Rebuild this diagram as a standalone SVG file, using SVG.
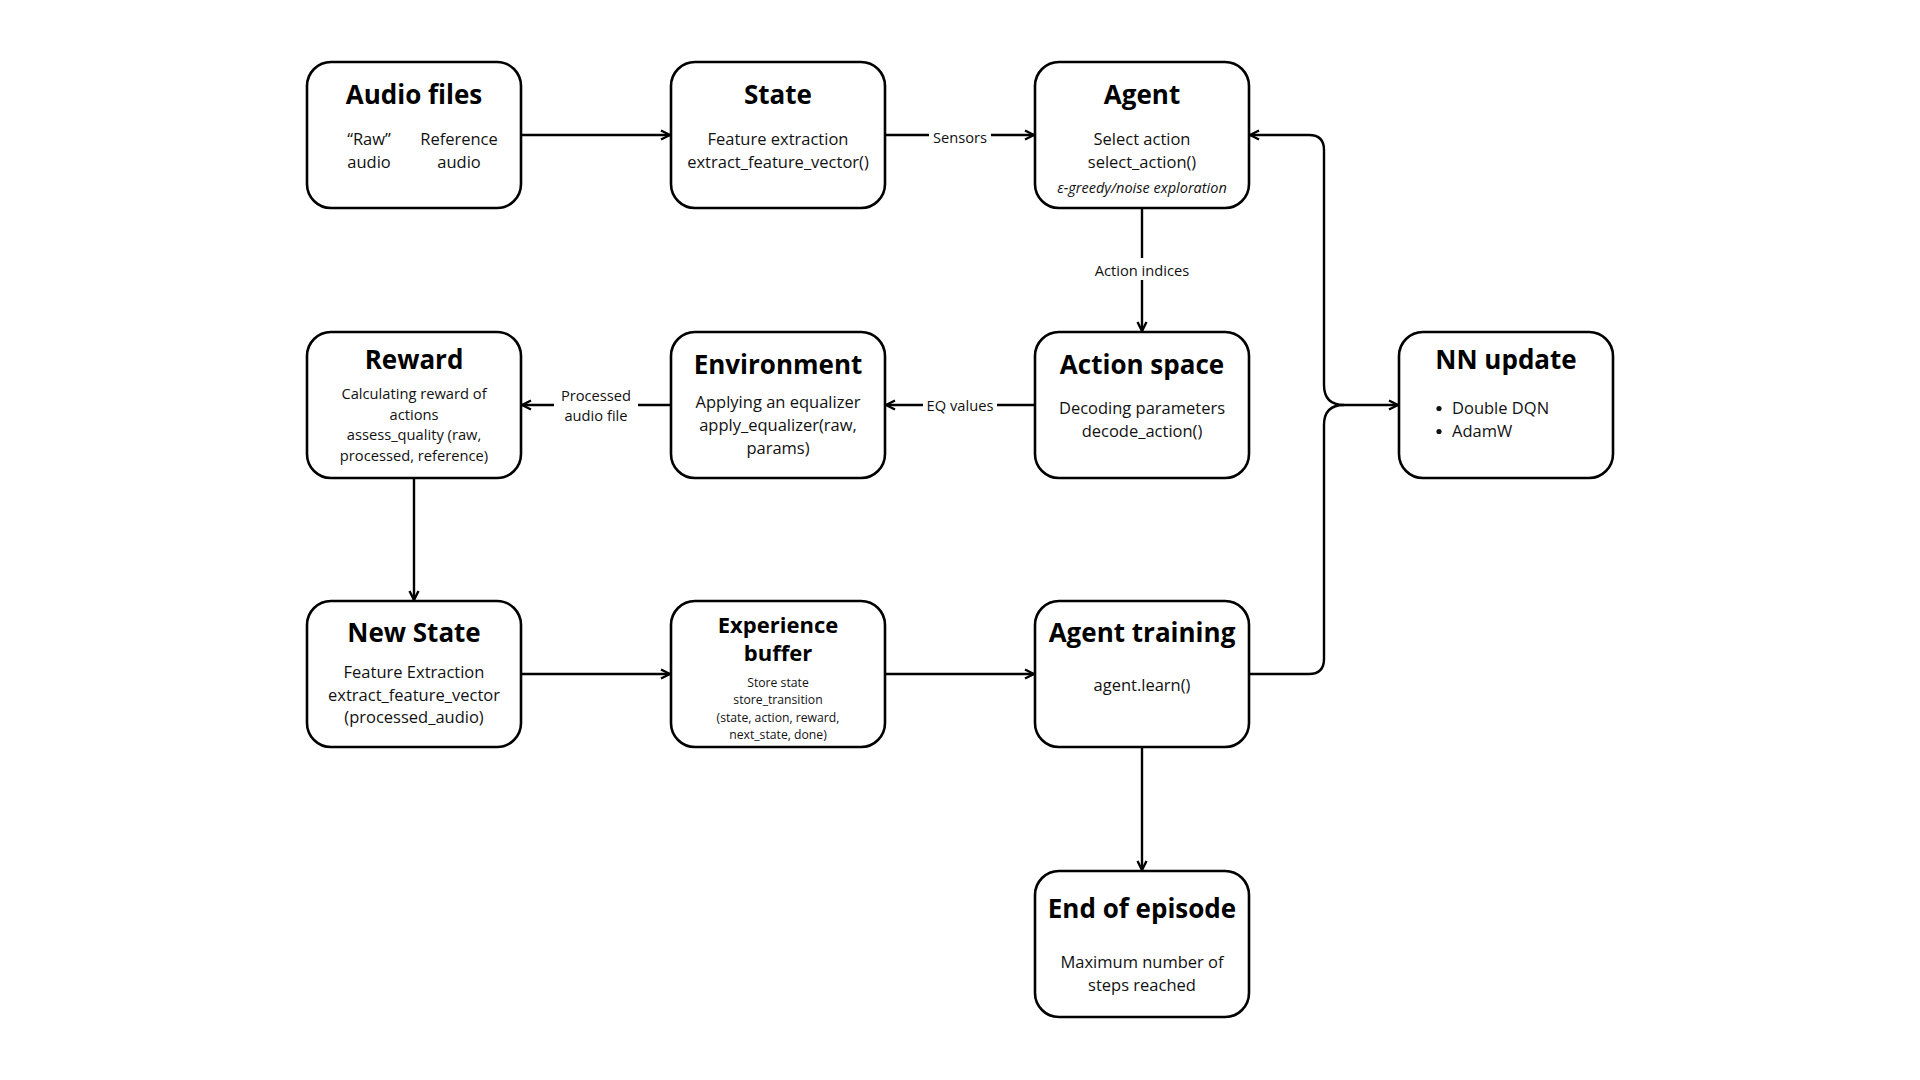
<svg xmlns="http://www.w3.org/2000/svg" width="1920" height="1080" viewBox="0 0 1920 1080">
<defs>
<marker id="arr" viewBox="0 0 12 12" refX="11" refY="6" markerWidth="12" markerHeight="12" markerUnits="userSpaceOnUse" orient="auto">
<path d="M2,1.5 L11,6 L2,10.5" fill="none" stroke="#000" stroke-width="2.4"/>
</marker>
</defs>
<style>
.box{fill:#fff;stroke:#000;stroke-width:2.6}
.t{font-family:"Open Sans","Noto Sans",sans-serif;font-weight:700;font-size:26px;fill:#000;text-anchor:middle}
.b{font-family:"Open Sans","Noto Sans",sans-serif;font-size:16.5px;fill:#111;text-anchor:middle}
.s{font-family:"Open Sans","Noto Sans",sans-serif;font-size:14.7px;fill:#111;text-anchor:middle}
.xs{font-family:"Open Sans","Noto Sans",sans-serif;font-size:12.2px;fill:#111;text-anchor:middle}
.i{font-family:"Open Sans","Noto Sans",sans-serif;font-size:14.5px;font-style:italic;fill:#111;text-anchor:middle}
.l{font-family:"Open Sans","Noto Sans",sans-serif;font-size:14.7px;fill:#111;text-anchor:middle}
.c{fill:none;stroke:#000;stroke-width:2.4}
</style>
<rect width="1920" height="1080" fill="#fff"/>
<g id="connectors">
<path class="c" d="M522,135 H670" marker-end="url(#arr)"/>
<path class="c" d="M885,135 H1034" marker-end="url(#arr)"/>
<path class="c" d="M1142,208 V331" marker-end="url(#arr)"/>
<path class="c" d="M1035,405 H886" marker-end="url(#arr)"/>
<path class="c" d="M671,405 H522" marker-end="url(#arr)"/>
<path class="c" d="M414,478 V600" marker-end="url(#arr)"/>
<path class="c" d="M522,674 H670" marker-end="url(#arr)"/>
<path class="c" d="M885,674 H1034" marker-end="url(#arr)"/>
<path class="c" d="M1142,747 V870" marker-end="url(#arr)"/>
<path class="c" d="M1249,674 H1309 Q1324,674 1324,659 V425 Q1324,405 1344,405 H1398" marker-end="url(#arr)"/>
<path class="c" d="M1344,405 Q1324,405 1324,385 V150 Q1324,135 1309,135 H1250" marker-end="url(#arr)"/>
<rect x="929" y="125" width="62" height="22" fill="#fff"/>
<text class="l" x="960" y="142.5">Sensors</text>
<rect x="1090" y="258" width="104" height="22" fill="#fff"/>
<text class="l" x="1142" y="275.5">Action indices</text>
<rect x="923" y="394" width="74" height="22" fill="#fff"/>
<text class="l" x="960" y="410.5">EQ values</text>
<rect x="554" y="382" width="84" height="44" fill="#fff"/>
<text class="l" x="596" y="400.5">Processed</text>
<text class="l" x="596" y="420.5">audio file</text>
</g>
<g id="audio-files">
<rect class="box" x="307" y="62" width="214" height="146" rx="24"/>
<text class="t" x="414" y="103.5">Audio files</text>
<text class="b" x="369" y="144.5">“Raw”</text>
<text class="b" x="369" y="167.5">audio</text>
<text class="b" x="459" y="144.5">Reference</text>
<text class="b" x="459" y="167.5">audio</text>
</g>
<g id="state">
<rect class="box" x="671" y="62" width="214" height="146" rx="24"/>
<text class="t" x="778" y="103.5">State</text>
<text class="b" x="778" y="144.5">Feature extraction</text>
<text class="b" x="778" y="167.5">extract_feature_vector()</text>
</g>
<g id="agent">
<rect class="box" x="1035" y="62" width="214" height="146" rx="24"/>
<text class="t" x="1142" y="103.5">Agent</text>
<text class="b" x="1142" y="144.5">Select action</text>
<text class="b" x="1142" y="167.5">select_action()</text>
<text class="i" x="1142" y="192.5">ε-greedy/noise exploration</text>
</g>
<g id="reward">
<rect class="box" x="307" y="332" width="214" height="146" rx="24"/>
<text class="t" x="414" y="368.5">Reward</text>
<text class="s" x="414" y="398.5">Calculating reward of</text>
<text class="s" x="414" y="419.5">actions</text>
<text class="s" x="414" y="439.5">assess_quality (raw,</text>
<text class="s" x="414" y="460.5">processed, reference)</text>
</g>
<g id="environment">
<rect class="box" x="671" y="332" width="214" height="146" rx="24"/>
<text class="t" x="778" y="373.5">Environment</text>
<text class="b" x="778" y="407.5">Applying an equalizer</text>
<text class="b" x="778" y="430.5">apply_equalizer(raw,</text>
<text class="b" x="778" y="453.5">params)</text>
</g>
<g id="action-space">
<rect class="box" x="1035" y="332" width="214" height="146" rx="24"/>
<text class="t" x="1142" y="373.5">Action space</text>
<text class="b" x="1142" y="413.5">Decoding parameters</text>
<text class="b" x="1142" y="436.5">decode_action()</text>
</g>
<g id="nn-update">
<rect class="box" x="1399" y="332" width="214" height="146" rx="24"/>
<text class="t" x="1506" y="368.5">NN update</text>
<circle cx="1439" cy="408.5" r="2.6" fill="#111"/>
<circle cx="1439" cy="431.5" r="2.6" fill="#111"/>
<text class="b" x="1452" y="413.5" style="text-anchor:start">Double DQN</text>
<text class="b" x="1452" y="436.5" style="text-anchor:start">AdamW</text>
</g>
<g id="new-state">
<rect class="box" x="307" y="601" width="214" height="146" rx="24"/>
<text class="t" x="414" y="641.5">New State</text>
<text class="b" x="414" y="677.5">Feature Extraction</text>
<text class="b" x="414" y="700.5">extract_feature_vector</text>
<text class="b" x="414" y="722.5">(processed_audio)</text>
</g>
<g id="experience-buffer">
<rect class="box" x="671" y="601" width="214" height="146" rx="24"/>
<text class="t" x="778" y="632.5" style="font-size:22px">Experience</text>
<text class="t" x="778" y="660.5" style="font-size:22px">buffer</text>
<text class="xs" x="778" y="686.5">Store state</text>
<text class="xs" x="778" y="703.5">store_transition</text>
<text class="xs" x="778" y="721.5">(state, action, reward,</text>
<text class="xs" x="778" y="738.5">next_state, done)</text>
</g>
<g id="agent-training">
<rect class="box" x="1035" y="601" width="214" height="146" rx="24"/>
<text class="t" x="1142" y="641.5">Agent training</text>
<text class="b" x="1142" y="690.5">agent.learn()</text>
</g>
<g id="end-of-episode">
<rect class="box" x="1035" y="871" width="214" height="146" rx="24"/>
<text class="t" x="1142" y="917.5">End of episode</text>
<text class="b" x="1142" y="967.5">Maximum number of</text>
<text class="b" x="1142" y="990.5">steps reached</text>
</g>
</svg>
